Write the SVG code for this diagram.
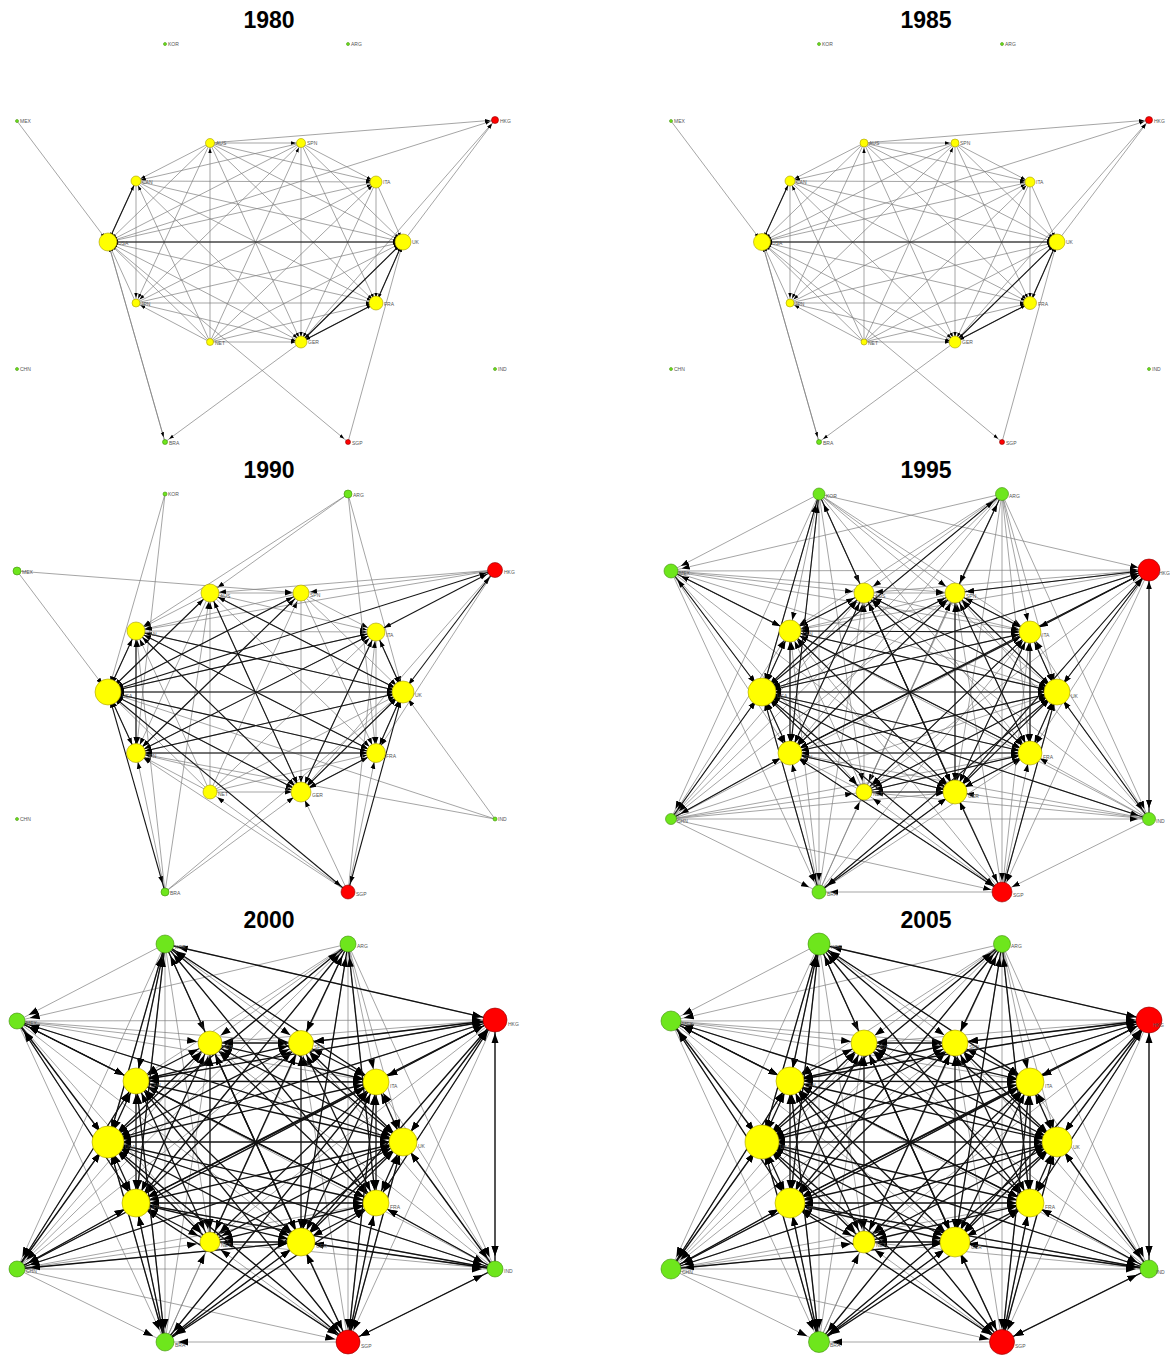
<svg xmlns="http://www.w3.org/2000/svg" width="1170" height="1355" viewBox="0 0 1170 1355">
<style>
  .title { font: bold 23px "Liberation Sans", Arial, sans-serif; fill: #000; text-anchor: middle; }
  .nd text { font: 5px "Liberation Sans", Arial, sans-serif; fill: #555; }
  .y circle { fill: #ffff00; stroke: #a89c00; stroke-width: .6; }
  .g circle { fill: #6ee61c; stroke: #3f8f0a; stroke-width: .6; }
  .r circle { fill: #ff0000; stroke: #8f0000; stroke-width: .6; }
  .lt { stroke: #7e7e7e; stroke-width: .7; fill: none; }
  .dk { stroke: #151515; stroke-width: 1.1; fill: none; }
  .dk4 { stroke: #111; stroke-width: 1.3; fill: none; }
  .e1 { marker-end: url(#m1); }
  .b1 { marker-start: url(#m1); marker-end: url(#m1); }
  .e2 { marker-end: url(#m2); }
  .b2 { marker-start: url(#m2); marker-end: url(#m2); }
  .e3 { marker-end: url(#m3); }
  .b3 { marker-start: url(#m3); marker-end: url(#m3); }
  .e4 { marker-end: url(#m4); }
  .b4 { marker-start: url(#m4); marker-end: url(#m4); }
</style>
<defs>
  <!-- arrowheads, pulled back from the line end by roughly the node radius of each year -->
  <marker id="m1" viewBox="0 0 10 10" refX="20" refY="5" markerWidth="5" markerHeight="5" markerUnits="userSpaceOnUse" orient="auto-start-reverse"><path d="M0,1.5 L10,5 L0,8.5z" fill="#000"/></marker>
  <marker id="m2" viewBox="0 0 10 10" refX="22.9" refY="5" markerWidth="7" markerHeight="7" markerUnits="userSpaceOnUse" orient="auto-start-reverse"><path d="M0,1.5 L10,5 L0,8.5z" fill="#000"/></marker>
  <marker id="m3" viewBox="0 0 10 10" refX="23.75" refY="5" markerWidth="8" markerHeight="8" markerUnits="userSpaceOnUse" orient="auto-start-reverse"><path d="M0,1.5 L10,5 L0,8.5z" fill="#000"/></marker>
  <marker id="m4" viewBox="0 0 10 10" refX="23" refY="5" markerWidth="10" markerHeight="10" markerUnits="userSpaceOnUse" orient="auto-start-reverse"><path d="M0,1.5 L10,5 L0,8.5z" fill="#000"/></marker>

  <!-- all links among the ten core economies (panel-local coordinates) -->
  <g id="ring">
    <line x1="136" y1="181" x2="108" y2="242"/><line x1="210" y1="143" x2="108" y2="242"/>
    <line x1="301" y1="143" x2="108" y2="242"/><line x1="376" y1="182" x2="108" y2="242"/>
    <line x1="403" y1="242" x2="108" y2="242"/><line x1="376" y1="303" x2="108" y2="242"/>
    <line x1="301" y1="342" x2="108" y2="242"/><line x1="210" y1="342" x2="108" y2="242"/>
    <line x1="136" y1="303" x2="108" y2="242"/><line x1="210" y1="143" x2="136" y2="181"/>
    <line x1="301" y1="143" x2="136" y2="181"/><line x1="136" y1="181" x2="376" y2="182"/>
    <line x1="136" y1="181" x2="403" y2="242"/><line x1="136" y1="181" x2="376" y2="303"/>
    <line x1="136" y1="181" x2="301" y2="342"/><line x1="210" y1="342" x2="136" y2="181"/>
    <line x1="136" y1="181" x2="136" y2="303"/><line x1="210" y1="143" x2="301" y2="143"/>
    <line x1="210" y1="143" x2="376" y2="182"/><line x1="210" y1="143" x2="403" y2="242"/>
    <line x1="210" y1="143" x2="376" y2="303"/><line x1="210" y1="143" x2="301" y2="342"/>
    <line x1="210" y1="342" x2="210" y2="143"/><line x1="210" y1="143" x2="136" y2="303"/>
    <line x1="301" y1="143" x2="376" y2="182"/><line x1="301" y1="143" x2="403" y2="242"/>
    <line x1="301" y1="143" x2="376" y2="303"/><line x1="301" y1="143" x2="301" y2="342"/>
    <line x1="210" y1="342" x2="301" y2="143"/><line x1="301" y1="143" x2="136" y2="303"/>
    <line x1="376" y1="182" x2="403" y2="242"/><line x1="376" y1="182" x2="376" y2="303"/>
    <line x1="376" y1="182" x2="301" y2="342"/><line x1="210" y1="342" x2="376" y2="182"/>
    <line x1="136" y1="303" x2="376" y2="182"/><line x1="376" y1="303" x2="403" y2="242"/>
    <line x1="301" y1="342" x2="403" y2="242"/><line x1="210" y1="342" x2="403" y2="242"/>
    <line x1="136" y1="303" x2="403" y2="242"/><line x1="376" y1="303" x2="301" y2="342"/>
    <line x1="210" y1="342" x2="376" y2="303"/><line x1="136" y1="303" x2="376" y2="303"/>
    <line x1="210" y1="342" x2="301" y2="342"/><line x1="136" y1="303" x2="301" y2="342"/>
    <line x1="210" y1="342" x2="136" y2="303"/>
  </g>

  <!-- strongest core links, early years -->
  <g id="darkA">
    <line x1="136" y1="181" x2="108" y2="242"/><line x1="108" y1="242" x2="403" y2="242"/>
    <line x1="376" y1="303" x2="403" y2="242"/><line x1="301" y1="342" x2="403" y2="242"/>
    <line x1="301" y1="342" x2="376" y2="303"/>
  </g>

  <!-- strong core links from 1990 -->
  <g id="darkB">
    <line x1="108" y1="242" x2="403" y2="242"/><line x1="108" y1="242" x2="136" y2="181"/>
    <line x1="108" y1="242" x2="136" y2="303"/><line x1="108" y1="242" x2="301" y2="342"/>
    <line x1="108" y1="242" x2="376" y2="303"/><line x1="108" y1="242" x2="376" y2="182"/>
    <line x1="108" y1="242" x2="301" y2="143"/><line x1="108" y1="242" x2="210" y2="143"/>
    <line x1="403" y1="242" x2="301" y2="342"/><line x1="403" y1="242" x2="376" y2="303"/>
    <line x1="403" y1="242" x2="376" y2="182"/><line x1="403" y1="242" x2="136" y2="181"/>
    <line x1="403" y1="242" x2="136" y2="303"/><line x1="403" y1="242" x2="210" y2="143"/>
    <line x1="301" y1="342" x2="376" y2="303"/><line x1="301" y1="342" x2="136" y2="181"/>
    <line x1="301" y1="342" x2="376" y2="182"/><line x1="301" y1="342" x2="210" y2="143"/>
    <line x1="376" y1="303" x2="136" y2="181"/><line x1="376" y1="303" x2="136" y2="303"/>
    <line x1="136" y1="303" x2="301" y2="143"/><line x1="136" y1="303" x2="376" y2="182"/>
    <line x1="136" y1="181" x2="136" y2="303"/>
  </g>

  <!-- further strong core links from 1995 -->
  <g id="darkC">
    <line x1="210" y1="342" x2="108" y2="242"/><line x1="210" y1="342" x2="403" y2="242"/>
    <line x1="210" y1="342" x2="301" y2="342"/><line x1="210" y1="143" x2="136" y2="303"/>
    <line x1="210" y1="143" x2="136" y2="181"/><line x1="301" y1="143" x2="301" y2="342"/>
    <line x1="301" y1="143" x2="376" y2="303"/><line x1="301" y1="143" x2="403" y2="242"/>
    <line x1="301" y1="143" x2="376" y2="182"/><line x1="376" y1="182" x2="136" y2="181"/>
    <line x1="376" y1="182" x2="376" y2="303"/><line x1="301" y1="342" x2="136" y2="303"/>
    <line x1="210" y1="342" x2="376" y2="303"/><line x1="210" y1="143" x2="376" y2="303"/>
    <line x1="210" y1="342" x2="376" y2="182"/>
  </g>

  <!-- outer links, early years -->
  <g id="outA">
    <line x1="17" y1="121" x2="108" y2="242"/><line x1="210" y1="143" x2="495" y2="120"/>
    <line x1="108" y1="242" x2="495" y2="120"/><line x1="403" y1="242" x2="495" y2="120"/>
    <line x1="301" y1="342" x2="495" y2="120"/><line x1="165" y1="442" x2="108" y2="242"/>
    <line x1="108" y1="242" x2="165" y2="442"/><line x1="301" y1="342" x2="165" y2="442"/>
    <line x1="108" y1="242" x2="348" y2="442"/><line x1="348" y1="442" x2="403" y2="242"/>
  </g>

  <!-- outer links, 1990 -->
  <g id="outB">
    <line x1="165" y1="44" x2="108" y2="242"/><line x1="165" y1="44" x2="136" y2="303"/>
    <line x1="348" y1="44" x2="136" y2="181"/><line x1="348" y1="44" x2="210" y2="143"/>
    <line x1="348" y1="44" x2="403" y2="242"/><line x1="348" y1="44" x2="376" y2="303"/>
    <line x1="17" y1="121" x2="108" y2="242"/><line x1="17" y1="121" x2="301" y2="143"/>
    <line x1="495" y1="120" x2="210" y2="143"/><line x1="495" y1="120" x2="301" y2="143"/>
    <line x1="495" y1="120" x2="136" y2="181"/><line x1="495" y1="120" x2="376" y2="303"/>
    <line x1="495" y1="120" x2="301" y2="342"/><line x1="495" y1="369" x2="403" y2="242"/>
    <line x1="495" y1="369" x2="108" y2="242"/><line x1="495" y1="369" x2="136" y2="303"/>
    <line x1="165" y1="442" x2="136" y2="181"/><line x1="165" y1="442" x2="136" y2="303"/>
    <line x1="165" y1="442" x2="301" y2="342"/><line x1="165" y1="442" x2="210" y2="143"/>
    <line x1="165" y1="442" x2="403" y2="242"/><line x1="348" y1="442" x2="376" y2="303"/>
    <line x1="348" y1="442" x2="376" y2="182"/><line x1="348" y1="442" x2="301" y2="342"/>
    <line x1="348" y1="442" x2="136" y2="303"/><line x1="348" y1="442" x2="210" y2="342"/>
  </g>
  <g id="outBd">
    <line x1="495" y1="120" x2="403" y2="242"/><line x1="495" y1="120" x2="108" y2="242"/>
    <line x1="495" y1="120" x2="376" y2="182"/><line x1="348" y1="442" x2="108" y2="242"/>
    <line x1="348" y1="442" x2="403" y2="242"/><line x1="165" y1="442" x2="108" y2="242"/>
  </g>

  <!-- every outer economy to every core economy -->
  <g id="outFull">
    <line x1="165" y1="44" x2="108" y2="242"/><line x1="165" y1="44" x2="136" y2="181"/><line x1="165" y1="44" x2="210" y2="143"/><line x1="165" y1="44" x2="301" y2="143"/><line x1="165" y1="44" x2="376" y2="182"/>
    <line x1="165" y1="44" x2="403" y2="242"/><line x1="165" y1="44" x2="376" y2="303"/><line x1="165" y1="44" x2="301" y2="342"/><line x1="165" y1="44" x2="210" y2="342"/><line x1="165" y1="44" x2="136" y2="303"/>
    <line x1="348" y1="44" x2="108" y2="242"/><line x1="348" y1="44" x2="136" y2="181"/><line x1="348" y1="44" x2="210" y2="143"/><line x1="348" y1="44" x2="301" y2="143"/><line x1="348" y1="44" x2="376" y2="182"/>
    <line x1="348" y1="44" x2="403" y2="242"/><line x1="348" y1="44" x2="376" y2="303"/><line x1="348" y1="44" x2="301" y2="342"/><line x1="348" y1="44" x2="210" y2="342"/><line x1="348" y1="44" x2="136" y2="303"/>
    <line x1="17" y1="121" x2="108" y2="242"/><line x1="17" y1="121" x2="136" y2="181"/><line x1="17" y1="121" x2="210" y2="143"/><line x1="17" y1="121" x2="301" y2="143"/><line x1="17" y1="121" x2="376" y2="182"/>
    <line x1="17" y1="121" x2="403" y2="242"/><line x1="17" y1="121" x2="376" y2="303"/><line x1="17" y1="121" x2="301" y2="342"/><line x1="17" y1="121" x2="210" y2="342"/><line x1="17" y1="121" x2="136" y2="303"/>
    <line x1="495" y1="120" x2="108" y2="242"/><line x1="495" y1="120" x2="136" y2="181"/><line x1="495" y1="120" x2="210" y2="143"/><line x1="495" y1="120" x2="301" y2="143"/><line x1="495" y1="120" x2="376" y2="182"/>
    <line x1="495" y1="120" x2="403" y2="242"/><line x1="495" y1="120" x2="376" y2="303"/><line x1="495" y1="120" x2="301" y2="342"/><line x1="495" y1="120" x2="210" y2="342"/><line x1="495" y1="120" x2="136" y2="303"/>
    <line x1="17" y1="369" x2="108" y2="242"/><line x1="17" y1="369" x2="136" y2="181"/><line x1="17" y1="369" x2="210" y2="143"/><line x1="17" y1="369" x2="301" y2="143"/><line x1="17" y1="369" x2="376" y2="182"/>
    <line x1="17" y1="369" x2="403" y2="242"/><line x1="17" y1="369" x2="376" y2="303"/><line x1="17" y1="369" x2="301" y2="342"/><line x1="17" y1="369" x2="210" y2="342"/><line x1="17" y1="369" x2="136" y2="303"/>
    <line x1="495" y1="369" x2="108" y2="242"/><line x1="495" y1="369" x2="136" y2="181"/><line x1="495" y1="369" x2="210" y2="143"/><line x1="495" y1="369" x2="301" y2="143"/><line x1="495" y1="369" x2="376" y2="182"/>
    <line x1="495" y1="369" x2="403" y2="242"/><line x1="495" y1="369" x2="376" y2="303"/><line x1="495" y1="369" x2="301" y2="342"/><line x1="495" y1="369" x2="210" y2="342"/><line x1="495" y1="369" x2="136" y2="303"/>
    <line x1="165" y1="442" x2="108" y2="242"/><line x1="165" y1="442" x2="136" y2="181"/><line x1="165" y1="442" x2="210" y2="143"/><line x1="165" y1="442" x2="301" y2="143"/><line x1="165" y1="442" x2="376" y2="182"/>
    <line x1="165" y1="442" x2="403" y2="242"/><line x1="165" y1="442" x2="376" y2="303"/><line x1="165" y1="442" x2="301" y2="342"/><line x1="165" y1="442" x2="210" y2="342"/><line x1="165" y1="442" x2="136" y2="303"/>
    <line x1="348" y1="442" x2="108" y2="242"/><line x1="348" y1="442" x2="136" y2="181"/><line x1="348" y1="442" x2="210" y2="143"/><line x1="348" y1="442" x2="301" y2="143"/><line x1="348" y1="442" x2="376" y2="182"/>
    <line x1="348" y1="442" x2="403" y2="242"/><line x1="348" y1="442" x2="376" y2="303"/><line x1="348" y1="442" x2="301" y2="342"/><line x1="348" y1="442" x2="210" y2="342"/><line x1="348" y1="442" x2="136" y2="303"/>
  </g>

  <!-- links between outer economies -->
  <g id="outO">
    <line x1="165" y1="44" x2="495" y2="120"/><line x1="165" y1="44" x2="17" y2="121"/>
    <line x1="348" y1="44" x2="17" y2="121"/><line x1="348" y1="44" x2="17" y2="369"/>
    <line x1="17" y1="121" x2="495" y2="120"/><line x1="17" y1="121" x2="165" y2="442"/>
    <line x1="495" y1="120" x2="495" y2="369"/><line x1="495" y1="120" x2="348" y2="442"/>
    <line x1="17" y1="369" x2="495" y2="369"/><line x1="17" y1="369" x2="348" y2="442"/>
    <line x1="17" y1="369" x2="165" y2="442"/><line x1="495" y1="369" x2="348" y2="442"/>
    <line x1="348" y1="442" x2="165" y2="442"/><line x1="165" y1="44" x2="165" y2="442"/>
    <line x1="348" y1="44" x2="348" y2="442"/><line x1="165" y1="44" x2="17" y2="369"/>
    <line x1="348" y1="44" x2="495" y2="369"/>
  </g>

  <!-- strong outer links from 1995 -->
  <g id="outDark95">
    <line x1="165" y1="44" x2="108" y2="242"/><line x1="165" y1="44" x2="136" y2="303"/>
    <line x1="165" y1="44" x2="301" y2="342"/><line x1="348" y1="44" x2="108" y2="242"/>
    <line x1="348" y1="44" x2="301" y2="143"/><line x1="17" y1="121" x2="108" y2="242"/>
    <line x1="17" y1="121" x2="136" y2="181"/><line x1="495" y1="120" x2="108" y2="242"/>
    <line x1="495" y1="120" x2="403" y2="242"/><line x1="495" y1="120" x2="301" y2="143"/>
    <line x1="495" y1="120" x2="136" y2="303"/><line x1="495" y1="120" x2="376" y2="182"/>
    <line x1="495" y1="120" x2="301" y2="342"/><line x1="17" y1="369" x2="108" y2="242"/>
    <line x1="17" y1="369" x2="136" y2="303"/><line x1="495" y1="369" x2="403" y2="242"/>
    <line x1="495" y1="369" x2="108" y2="242"/><line x1="165" y1="442" x2="108" y2="242"/>
    <line x1="165" y1="442" x2="403" y2="242"/><line x1="165" y1="442" x2="301" y2="342"/>
    <line x1="348" y1="442" x2="108" y2="242"/><line x1="348" y1="442" x2="403" y2="242"/>
    <line x1="348" y1="442" x2="136" y2="303"/><line x1="348" y1="442" x2="301" y2="342"/>
    <line x1="495" y1="120" x2="495" y2="369"/>
  </g>

  <!-- further strong outer links from 2000 -->
  <g id="outDark00">
    <line x1="165" y1="44" x2="403" y2="242"/><line x1="165" y1="44" x2="376" y2="303"/>
    <line x1="165" y1="44" x2="136" y2="181"/><line x1="165" y1="44" x2="376" y2="182"/>
    <line x1="165" y1="44" x2="495" y2="120"/><line x1="348" y1="44" x2="376" y2="303"/>
    <line x1="348" y1="44" x2="301" y2="342"/><line x1="348" y1="44" x2="136" y2="303"/>
    <line x1="17" y1="121" x2="136" y2="303"/><line x1="17" y1="121" x2="376" y2="303"/>
    <line x1="17" y1="121" x2="403" y2="242"/><line x1="495" y1="120" x2="136" y2="181"/>
    <line x1="495" y1="120" x2="376" y2="303"/><line x1="17" y1="369" x2="403" y2="242"/>
    <line x1="17" y1="369" x2="301" y2="342"/><line x1="17" y1="369" x2="136" y2="181"/>
    <line x1="17" y1="369" x2="376" y2="182"/><line x1="495" y1="369" x2="301" y2="342"/>
    <line x1="495" y1="369" x2="376" y2="303"/><line x1="495" y1="369" x2="136" y2="303"/>
    <line x1="165" y1="442" x2="376" y2="182"/><line x1="165" y1="442" x2="136" y2="181"/>
    <line x1="165" y1="442" x2="136" y2="303"/><line x1="165" y1="442" x2="376" y2="303"/>
    <line x1="348" y1="442" x2="376" y2="303"/><line x1="348" y1="442" x2="376" y2="182"/>
    <line x1="348" y1="442" x2="136" y2="181"/><line x1="348" y1="442" x2="495" y2="369"/>
  </g>
</defs>

<rect width="1170" height="1355" fill="#fff"/>

<!-- year titles -->
<text class="title" x="269" y="28">1980</text>
<text class="title" x="926" y="28">1985</text>
<text class="title" x="269" y="478">1990</text>
<text class="title" x="926" y="478">1995</text>
<text class="title" x="269" y="928">2000</text>
<text class="title" x="926" y="928">2005</text>

<g id="connectors">
  <!-- 1980 -->
  <use href="#ring" class="lt e1"/>
  <use href="#outA" class="lt e1"/>
  <use href="#darkA" class="dk b1"/>
  <!-- 1985 -->
  <use href="#ring" class="lt e1" transform="translate(654,0)"/>
  <use href="#outA" class="lt e1" transform="translate(654,0)"/>
  <use href="#darkA" class="dk b1" transform="translate(654,0)"/>
  <!-- 1990 -->
  <use href="#ring" class="lt e2" transform="translate(0,450)"/>
  <use href="#outB" class="lt e2" transform="translate(0,450)"/>
  <use href="#darkB" class="dk b2" transform="translate(0,450)"/>
  <use href="#outBd" class="dk b2" transform="translate(0,450)"/>
  <!-- 1995 -->
  <use href="#ring" class="lt e3" transform="translate(654,450)"/>
  <use href="#outFull" class="lt e3" transform="translate(654,450)"/>
  <use href="#outO" class="lt e3" transform="translate(654,450)"/>
  <use href="#darkB" class="dk b3" transform="translate(654,450)"/>
  <use href="#darkC" class="dk b3" transform="translate(654,450)"/>
  <use href="#outDark95" class="dk b3" transform="translate(654,450)"/>
  <!-- 2000 -->
  <use href="#outFull" class="lt e4" transform="translate(0,900)"/>
  <use href="#outO" class="lt e4" transform="translate(0,900)"/>
  <use href="#ring" class="dk4 b4" transform="translate(0,900)"/>
  <use href="#outDark95" class="dk4 b4" transform="translate(0,900)"/>
  <use href="#outDark00" class="dk4 b4" transform="translate(0,900)"/>
  <!-- 2005 -->
  <use href="#outFull" class="lt e4" transform="translate(654,900)"/>
  <use href="#outO" class="lt e4" transform="translate(654,900)"/>
  <use href="#ring" class="dk4 b4" transform="translate(654,900)"/>
  <use href="#outDark95" class="dk4 b4" transform="translate(654,900)"/>
  <use href="#outDark00" class="dk4 b4" transform="translate(654,900)"/>
</g>

<!-- 1980 nodes -->
<g id="p1980" class="nd">
  <g id="n1980-KOR" class="g"><circle cx="165" cy="44" r="1.5"/><text x="168" y="46">KOR</text></g>
  <g id="n1980-ARG" class="g"><circle cx="348" cy="44" r="1.5"/><text x="351" y="46">ARG</text></g>
  <g id="n1980-MEX" class="g"><circle cx="17" cy="121" r="1.5"/><text x="20" y="123">MEX</text></g>
  <g id="n1980-HKG" class="r"><circle cx="495" cy="120" r="3.5"/><text x="500" y="123">HKG</text></g>
  <g id="n1980-AUS" class="y"><circle cx="210" cy="143" r="4.5"/><text x="216" y="145">AUS</text></g>
  <g id="n1980-SPN" class="y"><circle cx="301" cy="143" r="4.5"/><text x="307" y="145">SPN</text></g>
  <g id="n1980-CAN" class="y"><circle cx="136" cy="181" r="5"/><text x="142" y="184">CAN</text></g>
  <g id="n1980-ITA" class="y"><circle cx="376" cy="182" r="6"/><text x="383" y="184">ITA</text></g>
  <g id="n1980-USA" class="y"><circle cx="108" cy="242" r="9"/><text x="118" y="245">USA</text></g>
  <g id="n1980-UK" class="y"><circle cx="403" cy="242" r="8"/><text x="412" y="244">UK</text></g>
  <g id="n1980-JPN" class="y"><circle cx="136" cy="303" r="4"/><text x="141" y="306">JPN</text></g>
  <g id="n1980-FRA" class="y"><circle cx="376" cy="303" r="7"/><text x="384" y="306">FRA</text></g>
  <g id="n1980-NET" class="y"><circle cx="210" cy="342" r="3.5"/><text x="215" y="345">NET</text></g>
  <g id="n1980-GER" class="y"><circle cx="301" cy="342" r="6"/><text x="308" y="344">GER</text></g>
  <g id="n1980-CHN" class="g"><circle cx="17" cy="369" r="1.5"/><text x="20" y="371">CHN</text></g>
  <g id="n1980-IND" class="g"><circle cx="495" cy="369" r="1.5"/><text x="498" y="371">IND</text></g>
  <g id="n1980-BRA" class="g"><circle cx="165" cy="442" r="2.5"/><text x="169" y="445">BRA</text></g>
  <g id="n1980-SGP" class="r"><circle cx="348" cy="442" r="2.5"/><text x="352" y="445">SGP</text></g>
</g>

<!-- 1985 nodes -->
<g id="p1985" class="nd" transform="translate(654,0)">
  <g id="n1985-KOR" class="g"><circle cx="165" cy="44" r="1.5"/><text x="168" y="46">KOR</text></g>
  <g id="n1985-ARG" class="g"><circle cx="348" cy="44" r="1.5"/><text x="351" y="46">ARG</text></g>
  <g id="n1985-MEX" class="g"><circle cx="17" cy="121" r="1.5"/><text x="20" y="123">MEX</text></g>
  <g id="n1985-HKG" class="r"><circle cx="495" cy="120" r="3.5"/><text x="500" y="123">HKG</text></g>
  <g id="n1985-AUS" class="y"><circle cx="210" cy="143" r="4"/><text x="215" y="145">AUS</text></g>
  <g id="n1985-SPN" class="y"><circle cx="301" cy="143" r="4"/><text x="306" y="145">SPN</text></g>
  <g id="n1985-CAN" class="y"><circle cx="136" cy="181" r="5"/><text x="142" y="184">CAN</text></g>
  <g id="n1985-ITA" class="y"><circle cx="376" cy="182" r="5"/><text x="382" y="184">ITA</text></g>
  <g id="n1985-USA" class="y"><circle cx="108" cy="242" r="8.5"/><text x="118" y="245">USA</text></g>
  <g id="n1985-UK" class="y"><circle cx="403" cy="242" r="8"/><text x="412" y="244">UK</text></g>
  <g id="n1985-JPN" class="y"><circle cx="136" cy="303" r="4"/><text x="141" y="306">JPN</text></g>
  <g id="n1985-FRA" class="y"><circle cx="376" cy="303" r="6.5"/><text x="384" y="306">FRA</text></g>
  <g id="n1985-NET" class="y"><circle cx="210" cy="342" r="3"/><text x="214" y="345">NET</text></g>
  <g id="n1985-GER" class="y"><circle cx="301" cy="342" r="6"/><text x="308" y="344">GER</text></g>
  <g id="n1985-CHN" class="g"><circle cx="17" cy="369" r="1.5"/><text x="20" y="371">CHN</text></g>
  <g id="n1985-IND" class="g"><circle cx="495" cy="369" r="1.5"/><text x="498" y="371">IND</text></g>
  <g id="n1985-BRA" class="g"><circle cx="165" cy="442" r="2.5"/><text x="169" y="445">BRA</text></g>
  <g id="n1985-SGP" class="r"><circle cx="348" cy="442" r="2.5"/><text x="352" y="445">SGP</text></g>
</g>

<!-- 1990 nodes -->
<g id="p1990" class="nd" transform="translate(0,450)">
  <g id="n1990-KOR" class="g"><circle cx="165" cy="44" r="2"/><text x="168" y="46">KOR</text></g>
  <g id="n1990-ARG" class="g"><circle cx="348" cy="44" r="4"/><text x="353" y="47">ARG</text></g>
  <g id="n1990-MEX" class="g"><circle cx="17" cy="121" r="4"/><text x="22" y="124">MEX</text></g>
  <g id="n1990-HKG" class="r"><circle cx="495" cy="120" r="7.5"/><text x="504" y="124">HKG</text></g>
  <g id="n1990-AUS" class="y"><circle cx="210" cy="143" r="9"/><text x="220" y="148">AUS</text></g>
  <g id="n1990-SPN" class="y"><circle cx="301" cy="143" r="8"/><text x="310" y="147">SPN</text></g>
  <g id="n1990-CAN" class="y"><circle cx="136" cy="181" r="9"/><text x="146" y="186">CAN</text></g>
  <g id="n1990-ITA" class="y"><circle cx="376" cy="182" r="9"/><text x="386" y="187">ITA</text></g>
  <g id="n1990-USA" class="y"><circle cx="108" cy="242" r="13"/><text x="122" y="248">USA</text></g>
  <g id="n1990-UK" class="y"><circle cx="403" cy="242" r="11"/><text x="415" y="247">UK</text></g>
  <g id="n1990-JPN" class="y"><circle cx="136" cy="303" r="9.5"/><text x="147" y="308">JPN</text></g>
  <g id="n1990-FRA" class="y"><circle cx="376" cy="303" r="9.5"/><text x="386" y="308">FRA</text></g>
  <g id="n1990-NET" class="y"><circle cx="210" cy="342" r="7"/><text x="218" y="346">NET</text></g>
  <g id="n1990-GER" class="y"><circle cx="301" cy="342" r="10"/><text x="312" y="347">GER</text></g>
  <g id="n1990-CHN" class="g"><circle cx="17" cy="369" r="1.5"/><text x="20" y="371">CHN</text></g>
  <g id="n1990-IND" class="g"><circle cx="495" cy="369" r="2"/><text x="498" y="371">IND</text></g>
  <g id="n1990-BRA" class="g"><circle cx="165" cy="442" r="4"/><text x="170" y="445">BRA</text></g>
  <g id="n1990-SGP" class="r"><circle cx="348" cy="442" r="7"/><text x="356" y="446">SGP</text></g>
</g>

<!-- 1995 nodes -->
<g id="p1995" class="nd" transform="translate(654,450)">
  <g id="n1995-KOR" class="g"><circle cx="165" cy="44" r="6"/><text x="172" y="48">KOR</text></g>
  <g id="n1995-ARG" class="g"><circle cx="348" cy="44" r="6.5"/><text x="355" y="48">ARG</text></g>
  <g id="n1995-MEX" class="g"><circle cx="17" cy="121" r="7"/><text x="25" y="125">MEX</text></g>
  <g id="n1995-HKG" class="r"><circle cx="495" cy="120" r="11"/><text x="505" y="125">HKG</text></g>
  <g id="n1995-AUS" class="y"><circle cx="210" cy="143" r="10"/><text x="221" y="148">AUS</text></g>
  <g id="n1995-SPN" class="y"><circle cx="301" cy="143" r="10"/><text x="312" y="148">SPN</text></g>
  <g id="n1995-CAN" class="y"><circle cx="136" cy="181" r="11"/><text x="148" y="186">CAN</text></g>
  <g id="n1995-ITA" class="y"><circle cx="376" cy="182" r="11"/><text x="388" y="187">ITA</text></g>
  <g id="n1995-USA" class="y"><circle cx="108" cy="242" r="14"/><text x="123" y="248">USA</text></g>
  <g id="n1995-UK" class="y"><circle cx="403" cy="242" r="13"/><text x="417" y="248">UK</text></g>
  <g id="n1995-JPN" class="y"><circle cx="136" cy="303" r="12"/><text x="149" y="309">JPN</text></g>
  <g id="n1995-FRA" class="y"><circle cx="376" cy="303" r="12"/><text x="389" y="309">FRA</text></g>
  <g id="n1995-NET" class="y"><circle cx="210" cy="342" r="8"/><text x="219" y="346">NET</text></g>
  <g id="n1995-GER" class="y"><circle cx="301" cy="342" r="12"/><text x="314" y="348">GER</text></g>
  <g id="n1995-CHN" class="g"><circle cx="17" cy="369" r="5.5"/><text x="23" y="373">CHN</text></g>
  <g id="n1995-IND" class="g"><circle cx="495" cy="369" r="6.5"/><text x="502" y="373">IND</text></g>
  <g id="n1995-BRA" class="g"><circle cx="165" cy="442" r="7"/><text x="173" y="446">BRA</text></g>
  <g id="n1995-SGP" class="r"><circle cx="348" cy="442" r="10"/><text x="359" y="447">SGP</text></g>
</g>

<!-- 2000 nodes -->
<g id="p2000" class="nd" transform="translate(0,900)">
  <g id="n2000-KOR" class="g"><circle cx="165" cy="44" r="9"/><text x="175" y="49">KOR</text></g>
  <g id="n2000-ARG" class="g"><circle cx="348" cy="44" r="8"/><text x="357" y="48">ARG</text></g>
  <g id="n2000-MEX" class="g"><circle cx="17" cy="121" r="8"/><text x="26" y="125">MEX</text></g>
  <g id="n2000-HKG" class="r"><circle cx="495" cy="120" r="12"/><text x="508" y="126">HKG</text></g>
  <g id="n2000-AUS" class="y"><circle cx="210" cy="143" r="12"/><text x="223" y="149">AUS</text></g>
  <g id="n2000-SPN" class="y"><circle cx="301" cy="143" r="12.5"/><text x="314" y="149">SPN</text></g>
  <g id="n2000-CAN" class="y"><circle cx="136" cy="181" r="13"/><text x="150" y="187">CAN</text></g>
  <g id="n2000-ITA" class="y"><circle cx="376" cy="182" r="13"/><text x="390" y="188">ITA</text></g>
  <g id="n2000-USA" class="y"><circle cx="108" cy="242" r="16"/><text x="125" y="249">USA</text></g>
  <g id="n2000-UK" class="y"><circle cx="403" cy="242" r="14"/><text x="418" y="248">UK</text></g>
  <g id="n2000-JPN" class="y"><circle cx="136" cy="303" r="14"/><text x="151" y="309">JPN</text></g>
  <g id="n2000-FRA" class="y"><circle cx="376" cy="303" r="13"/><text x="390" y="309">FRA</text></g>
  <g id="n2000-NET" class="y"><circle cx="210" cy="342" r="10"/><text x="221" y="347">NET</text></g>
  <g id="n2000-GER" class="y"><circle cx="301" cy="342" r="14"/><text x="316" y="348">GER</text></g>
  <g id="n2000-CHN" class="g"><circle cx="17" cy="369" r="8"/><text x="26" y="373">CHN</text></g>
  <g id="n2000-IND" class="g"><circle cx="495" cy="369" r="8"/><text x="504" y="373">IND</text></g>
  <g id="n2000-BRA" class="g"><circle cx="165" cy="442" r="9"/><text x="175" y="447">BRA</text></g>
  <g id="n2000-SGP" class="r"><circle cx="348" cy="442" r="12"/><text x="361" y="448">SGP</text></g>
</g>

<!-- 2005 nodes -->
<g id="p2005" class="nd" transform="translate(654,900)">
  <g id="n2005-KOR" class="g"><circle cx="165" cy="44" r="11"/><text x="177" y="49">KOR</text></g>
  <g id="n2005-ARG" class="g"><circle cx="348" cy="44" r="8.5"/><text x="357" y="48">ARG</text></g>
  <g id="n2005-MEX" class="g"><circle cx="17" cy="121" r="10"/><text x="28" y="126">MEX</text></g>
  <g id="n2005-HKG" class="r"><circle cx="495" cy="120" r="13"/><text x="499" y="127">HKG</text></g>
  <g id="n2005-AUS" class="y"><circle cx="210" cy="143" r="13"/><text x="224" y="149">AUS</text></g>
  <g id="n2005-SPN" class="y"><circle cx="301" cy="143" r="13"/><text x="315" y="149">SPN</text></g>
  <g id="n2005-CAN" class="y"><circle cx="136" cy="181" r="14"/><text x="151" y="187">CAN</text></g>
  <g id="n2005-ITA" class="y"><circle cx="376" cy="182" r="14"/><text x="391" y="188">ITA</text></g>
  <g id="n2005-USA" class="y"><circle cx="108" cy="242" r="17"/><text x="126" y="249">USA</text></g>
  <g id="n2005-UK" class="y"><circle cx="403" cy="242" r="15"/><text x="419" y="249">UK</text></g>
  <g id="n2005-JPN" class="y"><circle cx="136" cy="303" r="15"/><text x="152" y="310">JPN</text></g>
  <g id="n2005-FRA" class="y"><circle cx="376" cy="303" r="14"/><text x="391" y="309">FRA</text></g>
  <g id="n2005-NET" class="y"><circle cx="210" cy="342" r="11"/><text x="222" y="347">NET</text></g>
  <g id="n2005-GER" class="y"><circle cx="301" cy="342" r="15"/><text x="317" y="349">GER</text></g>
  <g id="n2005-CHN" class="g"><circle cx="17" cy="369" r="10"/><text x="28" y="374">CHN</text></g>
  <g id="n2005-IND" class="g"><circle cx="495" cy="369" r="9"/><text x="502" y="374">IND</text></g>
  <g id="n2005-BRA" class="g"><circle cx="165" cy="442" r="10.5"/><text x="176" y="447">BRA</text></g>
  <g id="n2005-SGP" class="r"><circle cx="348" cy="442" r="12.5"/><text x="361" y="448">SGP</text></g>
</g>
</svg>
